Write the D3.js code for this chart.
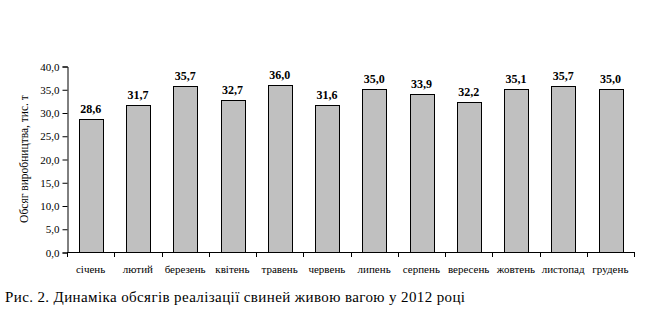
<!DOCTYPE html>
<html>
<head>
<meta charset="utf-8">
<script src="https://cdn.jsdelivr.net/npm/d3@7"></script>
<style>
  body { margin: 0; background: #fff; }
  text { font-family: "Liberation Serif", "Times New Roman", Times, serif; }
</style>
</head>
<body>
<svg id="chart" width="650" height="316"></svg>
<script>
// Обсяг виробництва по місяцях 2012 р.
const months = ["січень", "лютий", "березень", "квітень", "травень", "червень",
  "липень", "серпень", "вересень", "жовтень", "листопад", "грудень"];
const volumes = [28.6, 31.7, 35.7, 32.7, 36.0, 31.6, 35.0, 33.9, 32.2, 35.1, 35.7, 35.0];
const yTicks = [0, 5, 10, 15, 20, 25, 30, 35, 40];

(function () {
  const FONT = "Liberation Serif";
  const svg = d3.select("#chart");
  const plotLeft = 67, plotRight = 634, plotTop = 66, plotBottom = 252;

  const fmt = v => v.toFixed(1).replace(".", ",");

  const x = d3.scaleBand().domain(months).range([plotLeft, plotRight])
    .paddingInner(0.5).paddingOuter(0.25);
  const y = d3.scaleLinear().domain([0, 40]).range([plotBottom, plotTop]);

  // y axis
  const yAxis = svg.append("g")
    .attr("transform", `translate(${plotLeft + 0.5},0.5)`)
    .call(d3.axisLeft(y).tickValues(yTicks).tickFormat(fmt).tickSizeOuter(0).tickSize(5).tickPadding(3));
  yAxis.attr("font-family", FONT);
  yAxis.select(".domain").attr("stroke", "#000");
  yAxis.selectAll("line").attr("stroke", "#000");
  yAxis.selectAll("text").attr("font-size", 11).attr("fill", "#000");

  // x axis: ticks at band boundaries
  const xg = svg.append("g").attr("transform", `translate(0,${plotBottom})`).attr("font-family", FONT);
  xg.append("line").attr("x1", plotLeft).attr("x2", plotRight).attr("y1", 0.5).attr("y2", 0.5).attr("stroke", "#000");
  const bounds = d3.range(months.length + 1).map(i => plotLeft + i * x.step());
  xg.selectAll("line.tick").data(bounds).enter().append("line")
    .attr("class", "tick")
    .attr("x1", d => Math.round(d) + 0.5).attr("x2", d => Math.round(d) + 0.5)
    .attr("y1", 0).attr("y2", 5).attr("stroke", "#000");
  xg.selectAll("text").data(months).enter().append("text")
    .attr("x", d => x(d) + x.bandwidth() / 2)
    .attr("y", 21)
    .attr("text-anchor", "middle")
    .attr("font-size", 11)
    .text(d => d);

  // bars
  svg.append("g").selectAll("rect").data(volumes).enter().append("rect")
    .attr("x", (d, i) => Math.round(x(months[i])) + 0.5)
    .attr("y", d => Math.round(y(d)) + 0.5)
    .attr("width", Math.round(x.bandwidth()))
    .attr("height", d => plotBottom - Math.round(y(d)))
    .attr("fill", "#c0c0c0")
    .attr("stroke", "#000");

  // value labels
  svg.append("g").attr("font-family", FONT).selectAll("text").data(volumes).enter().append("text")
    .attr("x", (d, i) => x(months[i]) + x.bandwidth() / 2)
    .attr("y", d => y(d) - 6)
    .attr("text-anchor", "middle")
    .attr("font-size", 12)
    .attr("font-weight", "bold")
    .text(fmt);

  // y title
  svg.append("text")
    .attr("font-family", FONT)
    .attr("transform", `translate(28,${(plotTop + plotBottom) / 2}) rotate(-90)`)
    .attr("text-anchor", "middle")
    .attr("font-size", 11.5)
    .text("Обсяг виробництва, тис. т");

  // caption
  svg.append("text")
    .attr("font-family", FONT)
    .attr("x", 5).attr("y", 302)
    .attr("font-size", 15)
    .attr("textLength", 460)
    .text("Рис. 2. Динаміка обсягів реалізації свиней живою вагою у 2012 році");
})();
</script>
</body>
</html>
